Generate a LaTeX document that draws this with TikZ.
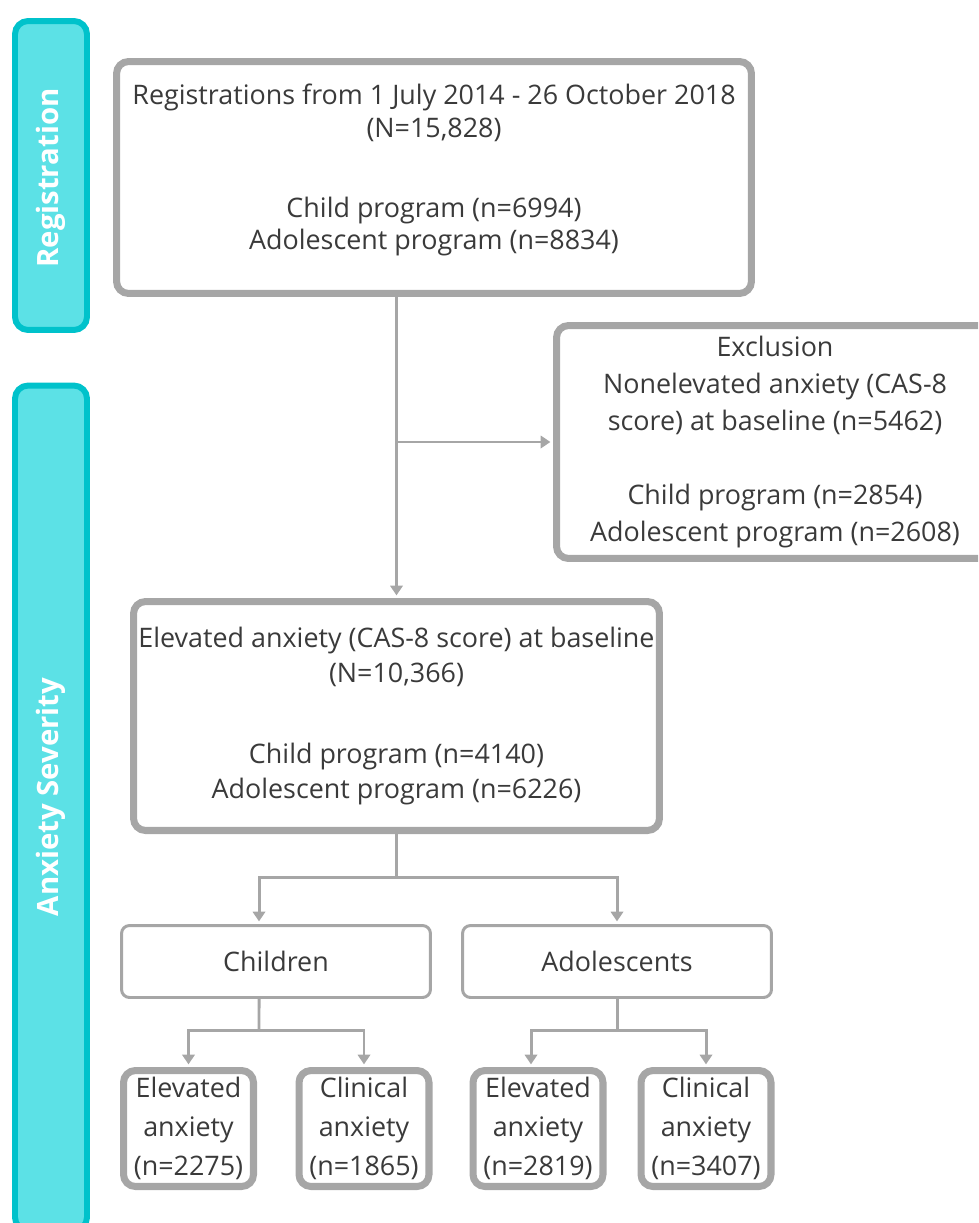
\documentclass[tikz,border=0pt]{standalone}
\usepackage{fontspec}
\setmainfont{Open Sans}
\usetikzlibrary{arrows.meta}
\definecolor{boxgray}{HTML}{A6A6A6}
\definecolor{tealedge}{HTML}{00C2CB}
\definecolor{tealfill}{HTML}{5CE1E6}
\definecolor{txtgray}{HTML}{3A3A3A}
\begin{document}
\begin{tikzpicture}[x=0.02cm, y=-0.02cm,
  stagebar/.style={draw=tealedge, fill=tealfill, line width=3.4pt, rounded corners=0.26cm},
  stagetext/.style={text=white, font=\bfseries\fontsize{16.7}{19}\selectfont, rotate=90},
  bigbox/.style={draw=boxgray, line width=4pt, rounded corners=0.24cm, align=center,
    text=txtgray, font=\fontsize{15.3}{18.5}\selectfont, inner sep=0pt},
  groupbox/.style={draw=boxgray, line width=1.7pt, rounded corners=0.16cm,
    minimum width=6.18cm, minimum height=1.44cm, text=txtgray, font=\fontsize{15.3}{18}\selectfont},
  leafbox/.style={bigbox, minimum width=2.6cm, minimum height=2.32cm, font=\fontsize{15.3}{22}\selectfont},
  conn/.style={draw=boxgray, line width=1.7pt},
  arr/.style={conn, -{Triangle[length=5.5pt, width=7pt]}, shorten >=1.5pt}]
\clip (0,0) rectangle (978,1223);

% stage bars on the left
\node[stagebar, minimum width=1.44cm, minimum height=6.18cm] (regbar) at (51,175.5) {};
\node[stagetext] (reglabel) at (51,178) {Registration};
\node[stagebar, minimum width=1.44cm, minimum height=16.9cm] (sevbar) at (51,808) {};
\node[stagetext] (sevlabel) at (51,797) {Anxiety Severity};

% main boxes
\node[bigbox, minimum width=12.7cm, minimum height=4.64cm, text depth=12pt] (reg) at (434,177.5)
  {Registrations from 1 July 2014 - 26 October 2018\\(N=15,828)\\[27pt]
   Child program (n=6994)\\Adolescent program (n=8834)};
\node[bigbox, minimum width=8.74cm, minimum height=4.66cm, font=\fontsize{15.3}{21}\selectfont] (excl) at (775,442)
  {Exclusion\\Nonelevated anxiety (CAS-8\\score) at baseline (n=5462)\\[21pt]
   Child program (n=2854)\\Adolescent program (n=2608)};
\node[bigbox, minimum width=10.52cm, minimum height=4.58cm, font=\fontsize{15.3}{19.5}\selectfont] (elev) at (396.5,716)
  {Elevated anxiety (CAS-8 score) at baseline\\(N=10,366)\\[27pt]
   Child program (n=4140)\\Adolescent program (n=6226)};

% age groups
\node[groupbox] (kids) at (276,961.5) {Children};
\node[groupbox] (teens) at (617,961.5) {Adolescents};

% severity leaves
\node[leafbox] (kidelev) at (188.5,1128.5) {Elevated\\anxiety\\(n=2275)};
\node[leafbox] (kidclin) at (364,1128.5) {Clinical\\anxiety\\(n=1865)};
\node[leafbox] (teenelev) at (538,1128.5) {Elevated\\anxiety\\(n=2819)};
\node[leafbox] (teenclin) at (706,1128.5) {Clinical\\anxiety\\(n=3407)};

% connectors
\draw[arr] (reg.south -| elev.north) -- (elev.north);
\draw[arr] (elev.north |- excl.west) -- (excl.west);

\coordinate (agefork) at (396.5,877);
\draw[conn] (elev.south) -- (agefork);
\draw[arr] (agefork) -| ([xshift=-0.34cm]kids.north);
\draw[arr] (agefork) -| (teens.north);

\coordinate (kidfork) at (259,1030);
\draw[conn] ([xshift=-0.34cm]kids.south) -- (kidfork);
\draw[arr] (kidfork) -| (kidelev.north);
\draw[arr] (kidfork) -| (kidclin.north);

\coordinate (teenfork) at (617,1030);
\draw[conn] (teens.south) -- (teenfork);
\draw[arr] (teenfork) -| ([xshift=-0.14cm]teenelev.north);
\draw[arr] (teenfork) -| (teenclin.north);
\end{tikzpicture}
\end{document}
